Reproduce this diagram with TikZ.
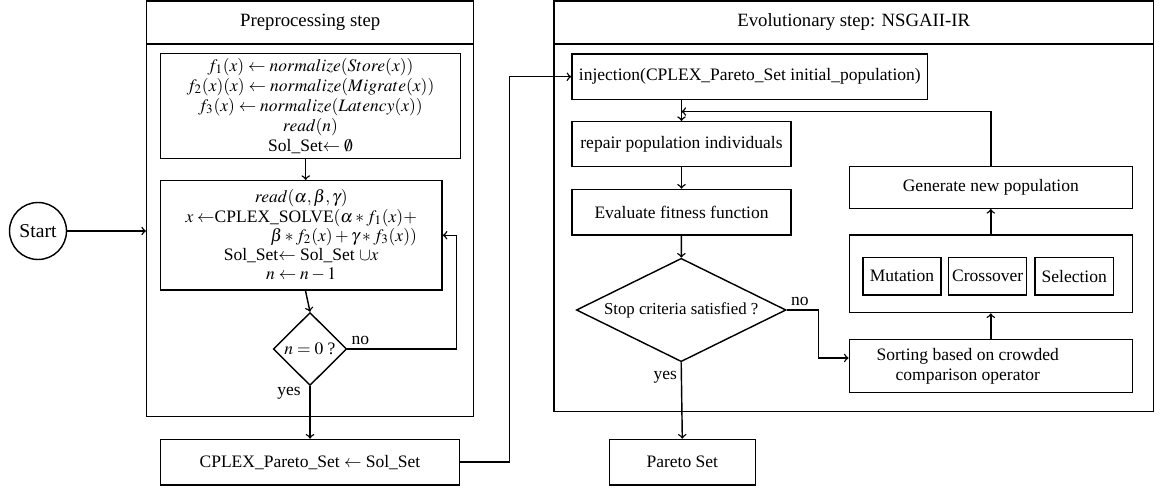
\documentclass[tikz,border=0pt]{standalone}
\usepackage{amsmath}
\usepackage{mathptmx}
\usepackage[no-math]{fontspec}
\setmainfont{Liberation Serif}
\usepackage{tikz}
\usetikzlibrary{shapes.geometric, calc}

\newcommand{\pxu}{0.56pt}

\tikzset{
  box/.style={draw, rectangle, line width=0.8pt, align=center, inner sep=2pt,
    font=\fontsize{9.8}{11}\selectfont},
  tight/.style={font=\fontsize{9.8}{10.6}\selectfont},
  title/.style={box, font=\fontsize{10.5}{12}\selectfont},
  wh/.style 2 args={minimum width=#1*\pxu, minimum height=#2*\pxu},
  decision/.style={draw, diamond, line width=0.8pt, inner sep=0pt},
  arr/.style={->, line width=0.8pt},
  lbl/.style={font=\fontsize{9.8}{11}\selectfont, inner sep=2pt},
}

\begin{document}
\begin{tikzpicture}[x=0.56pt, y=-0.56pt]
  \useasboundingbox (0,0) rectangle (1162,491);

  % Start
  \node[draw, circle, line width=0.8pt, minimum size=57*\pxu, inner sep=0pt,
    font=\fontsize{11}{12}\selectfont] (start) at (38,231) {Start};

  % Preprocessing panel
  \node[title, wh={327}{43}] (prephead) at (310.2,22.5) {Preprocessing step};
  \node[box, wh={327}{372.7}] (prepbody) at (310.2,230.3) {};

  \node[box, font=\fontsize{9.8}{11.2}\selectfont, wh={300.4}{105}] (init) at (310.5,105.8) {%
    $f_1(x) \leftarrow normalize(Store(x))$\\
    $f_2(x)(x) \leftarrow normalize(Migrate(x))$\\
    $f_3(x) \leftarrow normalize(Latency(x))$\\
    $read(n)$\\
    Sol\_Set$\leftarrow \emptyset$};

  \node[box, tight, wh={281.7}{109.3}] (solve) at (301.2,235.3) {%
    $read(\alpha,\beta,\gamma)$\\
    \begin{tabular}{@{}r@{}}
      $x \leftarrow$CPLEX\_SOLVE$(\alpha * f_1(x) +$\\
      $\beta * f_2(x) + \gamma * f_3(x))$
    \end{tabular}\\
    Sol\_Set$\leftarrow$ Sol\_Set $\cup x$\\
    $n \leftarrow n-1$};

  \node[decision, wh={73.4}{73}, label={[lbl]center:{$n=0$ ?}}] (zero) at (310,349) {};

  \node[box, wh={299.4}{45.7}] (cplex) at (310,462.2) {CPLEX\_Pareto\_Set $\leftarrow$ Sol\_Set};

  % Evolutionary panel
  \node[title, wh={599.3}{43}] (evohead) at (853.7,22.5) {Evolutionary step: NSGAII-IR};
  \node[box, wh={599.3}{367.7}] (evobody) at (853.7,227.8) {};

  \node[box, wh={355.7}{45.3}] (inject) at (749.8,76.7) {injection(CPLEX\_Pareto\_Set initial\_population)};
  \node[box, wh={219}{45}] (repair) at (681.5,144.2) {repair population individuals};
  \node[box, wh={219}{45.7}] (evaluate) at (681.5,212.2) {Evaluate fitness function};
  \node[decision, wh={209.7}{103.4},
    label={[lbl, font=\fontsize{9.4}{11}\selectfont]center:{Stop criteria satisfied ?}}] (stop) at (681.2,310) {};
  \node[box, wh={146}{45.7}] (pareto) at (682.3,462.2) {Pareto Set};

  \node[box, wh={283}{41.6}] (generate) at (990.8,187.5) {Generate new population};
  \node[box, wh={283}{77.7}] (operators) at (990.8,273.8) {};
  \node[box, wh={77.7}{37.7}] (mutation) at (902,276.2) {Mutation};
  \node[box, wh={78}{37.7}] (crossover) at (987.7,276.2) {Crossover};
  \node[box, wh={78.3}{37.7}] (selection) at (1074.2,276.2) {Selection};
  \node[box, wh={283}{53.4},
    label={[lbl, xshift=-23*\pxu, align=center]center:Sorting based on crowded\\comparison operator}] (sorting) at (990.8,366) {};

  % Connectors, preprocessing
  \draw[arr] (start) -- (start -| prepbody.west);
  \draw[arr] (init.south -| 305.7,0) -- (solve.north -| 305.7,0);
  \draw[arr] (solve.south -| 305.5,0) -- (zero.north);
  \draw[arr] (zero.east) node[lbl, above right] {no} -- ++(109,0) |- (solve.east);
  \draw[arr] (zero.south) node[lbl, below left, xshift=-5*\pxu, yshift=3*\pxu] {yes} -- (zero.south |- cplex.north);
  \draw[arr] (cplex.east) -- ++(49,0) |- (inject.west);

  % Connectors, evolutionary
  \draw[arr] (inject.south -| repair) -- (repair.north);
  \draw[arr] (generate.north) |- ($(inject.south -| repair)!0.55!(repair.north)$);
  \draw[arr] (repair) -- (evaluate);
  \draw[arr] (evaluate) -- (stop);
  \draw[arr] (stop.east) node[lbl, above right] {no} -- ++(31.7,0) |- ([yshift=8*\pxu]sorting.west);
  \draw[arr] (stop.south) node[lbl, below left, yshift=-5*\pxu] {yes} -- (pareto.north);
  \draw[arr] (sorting) -- (operators);
  \draw[arr] (operators) -- (generate);
\end{tikzpicture}
\end{document}
